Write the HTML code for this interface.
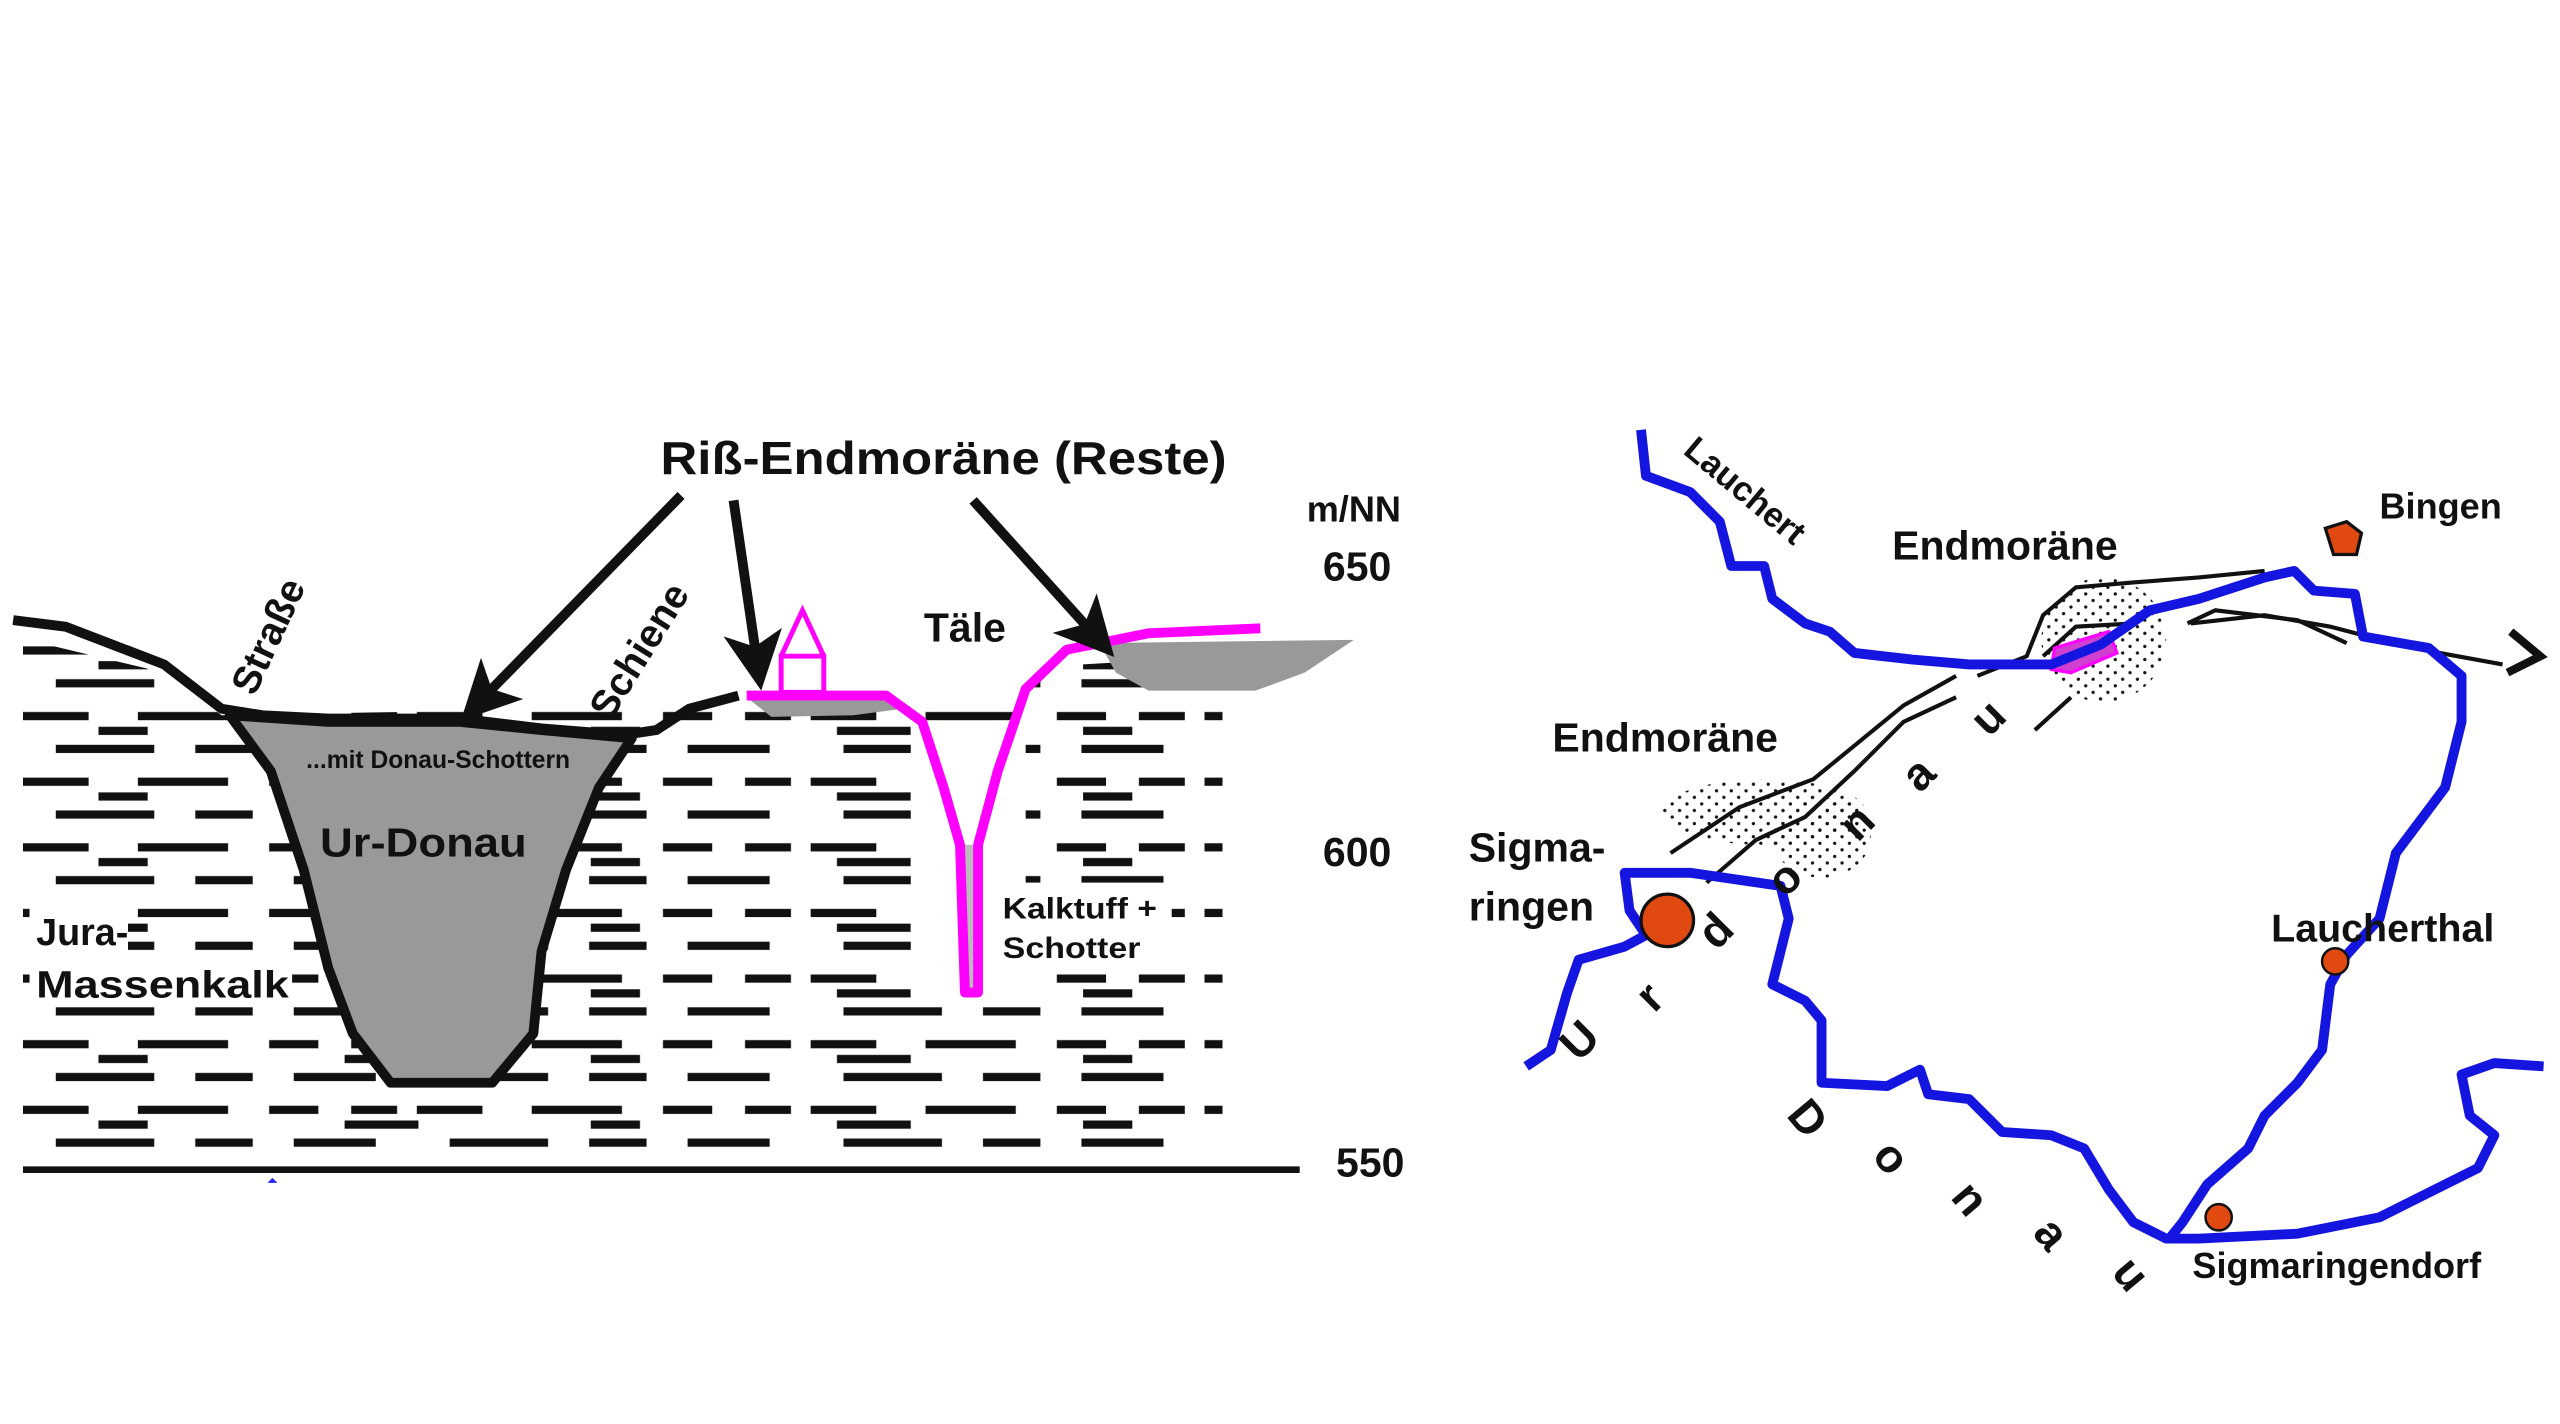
<!DOCTYPE html>
<html><head><meta charset="utf-8"><style>
html,body{margin:0;padding:0;background:#fff;}
svg{display:block;}
text{font-family:"Liberation Sans",sans-serif;font-weight:bold;fill:#111;}
</style></head><body>
<svg width="2560" height="1424" viewBox="0 0 1560 868" preserveAspectRatio="none" xmlns="http://www.w3.org/2000/svg">
<defs>
<pattern id="dash" x="14" y="392" width="240" height="40" patternUnits="userSpaceOnUse">
<rect x="0" y="2" width="40" height="5" fill="#111"/><rect x="70" y="2" width="55" height="5" fill="#111"/><rect x="150" y="2" width="30" height="5" fill="#111"/><rect x="200" y="2" width="28" height="5" fill="#111"/>
<rect x="20" y="22" width="60" height="5" fill="#111"/><rect x="105" y="22" width="35" height="5" fill="#111"/><rect x="165" y="22" width="50" height="5" fill="#111"/>
</pattern>
<pattern id="dash2" x="60" y="402" width="300" height="40" patternUnits="userSpaceOnUse">
<rect x="0" y="1" width="30" height="5" fill="#111"/><rect x="150" y="1" width="45" height="5" fill="#111"/>
</pattern>
<pattern id="dots" width="9" height="8" patternUnits="userSpaceOnUse">
<circle cx="2" cy="2" r="1" fill="#111"/><circle cx="6.5" cy="6" r="1" fill="#111"/>
</pattern>
<clipPath id="ground"><polygon points="8,388 100,410 135,436 450,430 540,430 580,432 620,420 660,405 745,400 745,700 8,700"/></clipPath>
<marker id="ah" markerWidth="6" markerHeight="6" refX="5" refY="3" orient="auto" markerUnits="strokeWidth"><path d="M0,0 L6,3 L0,6 L1.5,3 z" fill="#111"/></marker>
</defs>

<g clip-path="url(#ground)">
<rect x="8" y="385" width="740" height="315" fill="url(#dash)"/>
<rect x="8" y="385" width="740" height="315" fill="url(#dash2)"/>
</g>
<!-- white gaps behind labels -->
<rect x="18" y="550" width="60" height="30" fill="#fff"/>
<rect x="18" y="582" width="160" height="30" fill="#fff"/>
<rect x="606" y="538" width="108" height="52" fill="#fff"/>
<rect x="555" y="440" width="70" height="170" fill="#fff"/>

<polygon points="140,436 200,440 280,440 330,445 385,450 365,480 345,530 330,580 325,630 300,660 238,660 215,630 200,590 185,530 165,470" fill="#999" stroke="#111" stroke-width="6" stroke-linejoin="round"/>
<polyline points="8,378 40,382 100,405 135,432 160,436 200,438 280,438 330,444 380,448 400,445 420,432 450,424" fill="none" stroke="#111" stroke-width="6"/>
<line x1="14" y1="713" x2="792" y2="713" stroke="#111" stroke-width="4"/>

<polygon points="455,425 540,425 550,432 520,436 470,437" fill="#999"/>
<polygon points="670,392 825,390 795,410 765,421 700,421 680,410" fill="#999"/>
<rect x="586" y="515" width="12" height="92" fill="#bbb"/>
<polyline points="455,424 540,424 562,440 575,480 585,515 588,605 596,605 596,515 608,470 625,420 650,396 700,386 768,383" fill="none" stroke="#f0f" stroke-width="6" stroke-linejoin="round"/>
<path d="M476,422 V400 H502 V422 Z M476,400 L489,372 L502,400" fill="#fff" stroke="#f0f" stroke-width="3"/>

<line x1="415" y1="302" x2="285" y2="435" stroke="#111" stroke-width="6" marker-end="url(#ah)"/>
<line x1="447" y1="305" x2="463" y2="415" stroke="#111" stroke-width="6" marker-end="url(#ah)"/>
<line x1="593" y1="305" x2="675" y2="396" stroke="#111" stroke-width="6" marker-end="url(#ah)"/>

<text x="575" y="289" font-size="28" text-anchor="middle" textLength="345" lengthAdjust="spacingAndGlyphs">Riß-Endmoräne (Reste)</text>
<text x="825" y="318" font-size="22" text-anchor="middle">m/NN</text>
<text x="827" y="354" font-size="25" text-anchor="middle">650</text>
<text x="827" y="528" font-size="25" text-anchor="middle">600</text>
<text x="835" y="717" font-size="25" text-anchor="middle">550</text>
<text x="588" y="391" font-size="25" text-anchor="middle">Täle</text>
<text x="267" y="468" font-size="15" text-anchor="middle">...mit Donau-Schottern</text>
<text x="258" y="522" font-size="25" text-anchor="middle" textLength="126" lengthAdjust="spacingAndGlyphs">Ur-Donau</text>
<text x="22" y="576" font-size="23">Jura-</text>
<text x="22" y="608" font-size="23" textLength="154" lengthAdjust="spacingAndGlyphs">Massenkalk</text>
<text x="611" y="560" font-size="18" textLength="94" lengthAdjust="spacingAndGlyphs">Kalktuff +</text>
<text x="611" y="584" font-size="18" textLength="84" lengthAdjust="spacingAndGlyphs">Schotter</text>
<text x="0" y="0" font-size="24" transform="translate(155,425) rotate(-65)">Straße</text>
<text x="0" y="0" font-size="24" transform="translate(372,440) rotate(-58)">Schiene</text>
<path d="M166,718 l3,3 h-6z" fill="#22f"/>

<!-- Right map -->
<ellipse cx="1282" cy="390" rx="38" ry="38" fill="url(#dots)"/>
<ellipse cx="1075" cy="495" rx="62" ry="20" fill="url(#dots)"/>
<ellipse cx="1110" cy="510" rx="30" ry="25" fill="url(#dots)"/>
<g fill="none" stroke="#111" stroke-width="2.5">
<polyline points="1018,520 1060,492 1105,475 1160,430 1192,412"/>
<polyline points="1040,538 1070,512 1100,498 1130,470 1160,440 1192,425"/>
<polyline points="1205,412 1235,400 1245,375 1265,358 1300,355 1340,352 1380,348"/>
<polyline points="1245,400 1265,382 1300,380"/>
<polyline points="1240,445 1262,425"/>
<polyline points="1335,380 1380,375 1420,382 1470,395 1525,405"/>
<polyline points="1333,380 1350,372 1400,378 1430,392"/>
</g>
<polyline points="1530,385 1548,400 1528,410" fill="none" stroke="#111" stroke-width="5"/>
<polygon points="1252,395 1285,385 1290,398 1262,410 1250,408" fill="#d040d0" stroke="#f0f" stroke-width="2"/>

<g fill="none" stroke="#1515e0" stroke-width="6" stroke-linejoin="round">
<polyline points="1000,262 1003,290 1030,300 1048,318 1055,345 1075,345 1080,365 1100,380 1115,385 1130,398 1165,402 1200,405 1250,405 1280,393 1310,372 1340,365 1380,352 1398,348 1410,360 1435,362 1440,388 1480,395 1500,412 1500,440 1490,480 1460,520 1450,560 1430,582 1420,600 1415,640 1400,660 1380,680 1370,700 1345,722 1330,745 1322,755"/>
<polyline points="930,650 945,640 955,605 962,585 990,577 1003,570 993,555 990,532 1030,532 1085,540 1090,560 1080,600 1100,610 1110,622 1110,660 1150,662 1170,652 1175,667 1200,670 1220,690 1250,692 1270,700 1285,725 1300,745 1320,755 1340,755 1400,752 1450,742 1510,712 1520,692 1505,680 1500,655 1520,648 1550,650"/>
</g>
<circle cx="1016" cy="561" r="16" fill="#e04a10" stroke="#111" stroke-width="2"/>
<polygon points="1417,322 1430,318 1439,325 1436,338 1422,338" fill="#e04a10" stroke="#111" stroke-width="2"/>
<circle cx="1423" cy="586" r="8" fill="#e04a10" stroke="#111" stroke-width="1.5"/>
<circle cx="1352" cy="742" r="8" fill="#e04a10" stroke="#111" stroke-width="1.5"/>

<text x="1450" y="316" font-size="22">Bingen</text>
<text x="1153" y="341" font-size="25">Endmoräne</text>
<text x="946" y="458" font-size="25">Endmoräne</text>
<text x="895" y="525" font-size="25">Sigma-</text>
<text x="895" y="561" font-size="25">ringen</text>
<text x="1384" y="574" font-size="24">Laucherthal</text>
<text x="1336" y="779" font-size="22">Sigmaringendorf</text>
<text x="0" y="0" font-size="21" transform="translate(1025,276) rotate(40)">Lauchert</text>
<g font-size="28">
<text transform="translate(962,648) rotate(-45)">U</text>
<text transform="translate(1008,618) rotate(-45)">r</text>
<text transform="translate(1046,580) rotate(-45)">d</text>
<text transform="translate(1088,548) rotate(-45)">o</text>
<text transform="translate(1132,514) rotate(-45)">n</text>
<text transform="translate(1170,484) rotate(-45)">a</text>
<text transform="translate(1212,450) rotate(-45)">u</text>
<text transform="translate(1088,680) rotate(50)">D</text>
<text transform="translate(1140,705) rotate(50)">o</text>
<text transform="translate(1188,730) rotate(50)">n</text>
<text transform="translate(1238,752) rotate(50)">a</text>
<text transform="translate(1286,776) rotate(50)">u</text>
</g>
</svg>
</body></html>
